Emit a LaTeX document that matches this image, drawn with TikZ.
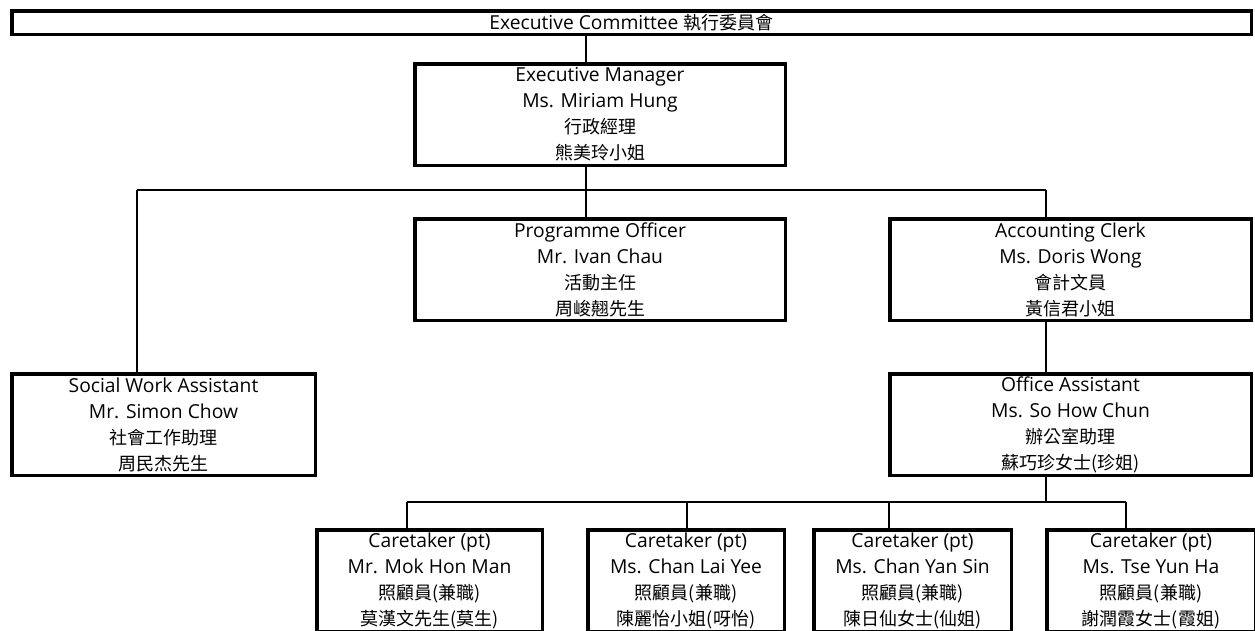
\documentclass[tikz,border=0pt]{standalone}
\usepackage{fontspec}
\setmainfont[Scale=1.07]{Open Sans}
\newfontfamily\cjk{Noto Sans CJK TC}
\usetikzlibrary{positioning}

\begin{document}
\begin{tikzpicture}[x=1pt, y=-1pt,
            box/.style={rectangle, draw, line width=3.5pt, inner sep=0pt, text centered, align=center, font=\fontsize{18}{26}\selectfont},
            staff/.style={box, minimum height=101.5pt},
            link/.style={line width=1.5pt}
        ]
            \useasboundingbox (0,0) rectangle (1255,630);
            \clip (0,0) rectangle (1255,630);

            \node[box, minimum width=1239.5pt, minimum height=23.5pt] (committee) at (631.5,22.5) {Executive Committee {\cjk 執行委員會}};
            \node[staff, minimum width=370.5pt] (manager) at (600,114.5) {Executive Manager\\Ms. Miriam Hung\\{\cjk 行政經理}\\{\cjk 熊美玲小姐}};
            \node[staff, minimum width=370.5pt] (programme) at (600,269.5) {Programme Officer\\Mr. Ivan Chau\\{\cjk 活動主任}\\{\cjk 周峻翹先生}};
            \node[staff, minimum width=361.5pt] (accounting) at (1070.5,269.5) {Accounting Clerk\\Ms. Doris Wong\\{\cjk 會計文員}\\{\cjk 黃信君小姐}};
            \node[staff, minimum width=303.5pt] (social) at (163.5,424.5) {Social Work Assistant\\Mr. Simon Chow\\{\cjk 社會工作助理}\\{\cjk 周民杰先生}};
            \node[staff, minimum width=361.5pt] (office) at (1070.5,424.5) {Office Assistant\\Ms. So How Chun\\{\cjk 辦公室助理}\\{\cjk 蘇巧珍女士(珍姐)}};
            \node[staff, minimum width=225.5pt] (care1) at (429.5,580.5) {Caretaker (pt)\\Mr. Mok Hon Man\\{\cjk 照顧員(兼職)}\\{\cjk 莫漢文先生(莫生)}};
            \node[staff, minimum width=196.5pt] (care2) at (686,580.5) {Caretaker (pt)\\Ms. Chan Lai Yee\\{\cjk 照顧員(兼職)}\\{\cjk 陳麗怡小姐(呀怡)}};
            \node[staff, minimum width=197.5pt] (care3) at (912.5,580.5) {Caretaker (pt)\\Ms. Chan Yan Sin\\{\cjk 照顧員(兼職)}\\{\cjk 陳日仙女士(仙姐)}};
            \node[staff, minimum width=208.5pt] (care4) at (1151,580.5) {Caretaker (pt)\\Ms. Tse Yun Ha\\{\cjk 照顧員(兼職)}\\{\cjk 謝潤霞女士(霞姐)}};

            % junction points of the tree
            \coordinate (bus1) at (586,190);
            \coordinate (bus1l) at (137,190);
            \coordinate (bus1r) at (1046,190);
            \coordinate (bus2) at (1046,502);
            \coordinate (bus2l) at (407,502);
            \coordinate (bus2a) at (687,502);
            \coordinate (bus2b) at (889,502);
            \coordinate (bus2r) at (1126,502);

            \draw[link] (committee.south -| bus1) -- (manager.north -| bus1);
            \draw[link] (manager.south -| bus1) -- (bus1);
            \draw[link] (bus1l) -- (bus1r);
            \draw[link] (bus1l) -- (social.north -| bus1l);
            \draw[link] (bus1) -- (programme.north -| bus1);
            \draw[link] (bus1r) -- (accounting.north -| bus1r);
            \draw[link] (accounting.south -| bus1r) -- (office.north -| bus1r);
            \draw[link] (office.south -| bus2) -- (bus2);
            \draw[link] (bus2l) -- (bus2r);
            \draw[link] (bus2l) -- (care1.north -| bus2l);
            \draw[link] (bus2a) -- (care2.north -| bus2a);
            \draw[link] (bus2b) -- (care3.north -| bus2b);
            \draw[link] (bus2r) -- (care4.north -| bus2r);
        \end{tikzpicture}
\end{document}
